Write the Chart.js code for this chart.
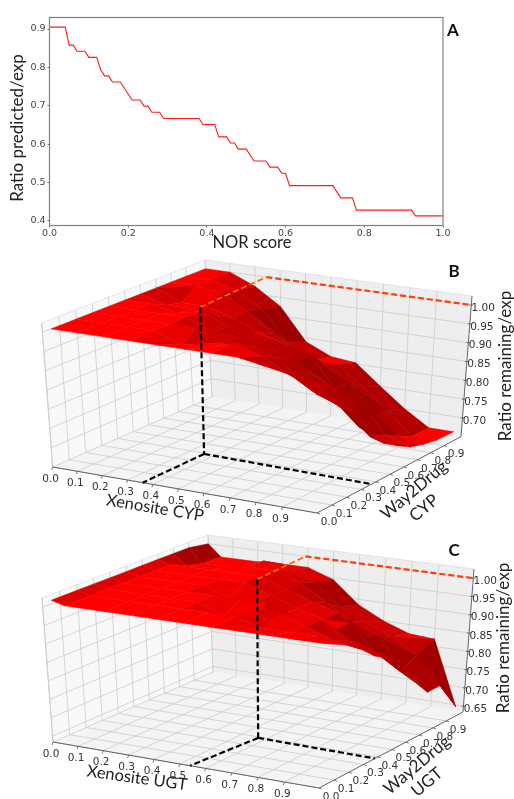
<!DOCTYPE html>
<html><head><meta charset="utf-8">
<style>html,body{margin:0;padding:0;background:#fff;width:514px;height:799px;overflow:hidden}canvas{position:absolute;left:0}</style>
<script src="https://cdn.jsdelivr.net/npm/chart.js@4"></script></head>
<body>
<canvas id="a" style="top:0" width="514" height="255"></canvas>
<canvas id="b" style="top:255px" width="514" height="270"></canvas>
<canvas id="c" style="top:525px" width="514" height="274"></canvas>
<script>
// Panel A
const norScore=[0,.04,.05,.06,.07,.09,.10,.12,.13,.14,.15,.16,.18,.21,.23,.24,.25,.26,.28,.29,.38,.39,.42,.43,.45,.46,.47,.48,.50,.52,.55,.56,.58,.59,.60,.61,.72,.74,.77,.78,.92,.93,1];
const ratioPredicted=[.905,.905,.858,.858,.842,.842,.826,.826,.794,.778,.778,.762,.762,.715,.715,.699,.699,.683,.683,.667,.667,.651,.651,.619,.619,.603,.603,.587,.587,.556,.556,.540,.540,.524,.524,.492,.492,.460,.460,.428,.428,.413,.413];
// Panels B, C: shared tick labels
const planeTicks=[0,.1,.2,.3,.4,.5,.6,.7,.8,.9];
const zTicksB=[.70,.75,.80,.85,.90,.95,1.00];
const zTicksC=[.65,.70,.75,.80,.85,.90,.95,1.00];
// Panel B surface
const bXGrid=[0,.1,.2,.3,.4,.5,.6,.7,.8,.9,1.0];
const bYGrid=[.05,.2,.3,.4,.5,.6,.7,.8,.9,1.03];
const bRatio=[
[1,1,1,1,1,1,1,1,.995,.97,.944],
[1,1,1,1,.975,.975,1,.975,.94,.90,.875],
[1,1,1,1,1,.97,.97,.95,.90,.90,.843],
[1,1,1,1,.97,.97,.93,.93,.88,.82,.762],
[1,1,.985,1,.97,.93,.93,.88,.82,.76,.727],
[1,.98,.98,.97,.93,.93,.88,.84,.78,.72,.702],
[1,.97,.97,.95,.92,.90,.88,.80,.78,.70,.68],
[1,1,.99,.95,.90,.86,.84,.80,.72,.68,.669],
[1,1,.98,.94,.86,.82,.82,.77,.72,.66,.662],
[1,1,.97,.925,.84,.81,.803,.75,.70,.66,.66]];
// Panel C surface
const cXGrid=[0,.05,.2,.3,.4,.5,.6,.7,.8,.9,1.0];
const cYGrid=[.05,.2,.3,.4,.5,.6,.7,.8,.9,1.03];
const cRatio=[
[1.01,1,1,1,1,1,1,1,1,1,1],
[1.01,1,1,1,1,1,1,.98,.98,.98,.967],
[1.01,1,1,1,1,.975,.975,1,.975,.95,.937],
[1.01,1,1,1,1,1,1,.975,.975,.93,.90],
[1.01,1,1,1,.975,.975,.95,.95,.93,.90,.874],
[1.01,1,1,1,1,.975,.95,.93,.93,.86,.817],
[1.01,1,1,1,1,.975,.95,.93,.875,.84,.773],
[1.01,.98,.985,1,1,.975,.93,.89,.86,.78,.727],
[1.01,.97,.97,1,.98,.96,.90,.87,.84,.80,.728],
[1.0,.967,.967,.97,.97,.945,.885,.85,.825,.82,.645]];
// Annotation lines: [x at floor, y at floor, z at top, x end on front axis, y end on side axis, x on back wall]
const markerB=[.36,.39,1.035,.36,.37,.245];
const markerC=[.57,.39,1.063,.54,.38,.39];

const camB={off:255,range:1.03,zMin:.65,zMax:1.024,
 floor:[[52.7,467],[317,513],[461,436.7],[212,397]],
 top:[[41.7,323],[325,366],[472,296],[205,260]]};
const camC={off:525,range:1.03,zMin:.634,zMax:1.025,
 floor:[[53,742],[319,788],[463,712],[213,672]],
 top:[[42,598],[324,639],[474,569],[208,535]]};

function homography(q){
 const [[x0,y0],[x1,y1],[x2,y2],[x3,y3]]=q;
 const dx1=x1-x2,dx2=x3-x2,sx=x0-x1+x2-x3,dy1=y1-y2,dy2=y3-y2,sy=y0-y1+y2-y3;
 const den=dx1*dy2-dx2*dy1,g=(sx*dy2-dx2*sy)/den,h=(dx1*sy-sx*dy1)/den;
 const a=x1-x0+g*x1,b=x3-x0+h*x3,d=y1-y0+g*y1,e=y3-y0+h*y3;
 return (u,v)=>{const w=g*u+h*v+1;return [(a*u+b*v+x0)/w,(d*u+e*v+y0)/w];};
}
function poly(pts,color){return {data:pts.map(p=>({x:p[0],y:p[1]})),showLine:true,fill:'shape',backgroundColor:color,borderColor:color,borderWidth:.5,pointRadius:0,clip:false};}
function line(pts,color,width,dash){return {data:pts.map(p=>({x:p[0],y:p[1]})),showLine:true,fill:false,borderColor:color,borderWidth:width,borderDash:dash||[],pointRadius:0,clip:false};}

function panel(id,cam,xGrid,yGrid,ratio,zTicks,marker,texts){
 const hf=homography(cam.floor),ht=homography(cam.top);
 const R=cam.range,zs=z=>(z-cam.zMin)/(cam.zMax-cam.zMin);
 const P=(x,y,z)=>{const u=x/R,v=y/R,w=zs(z),a=hf(u,v),b=ht(u,v);return [a[0]+(b[0]-a[0])*w,a[1]+(b[1]-a[1])*w];};
 const zLo=cam.zMin,zHi=cam.zMax,ds=[];
 // annotations on top
 const [mx,my,mz,ex,ey,wx]=marker;
 ds.push(line([P(mx,my,mz),P(mx,my,zLo)],'#000',2.2,[6,3]));
 ds.push(line([P(mx,my,zLo),P(ex,0,zLo)],'#000',2.2,[6,3]));
 ds.push(line([P(mx,my,zLo),P(R,ey,zLo)],'#000',2.2,[6,3]));
 ds.push(line([P(mx,my,mz),P(wx,R,1)],'#ff6a00',1.8,[6,3]));
 ds.push(line([P(wx,R,1),P(R,R,1)],'#ff3d0a',2.2,[6,3]));
 // surface, nearest first; light falls from the low-x side
 const faces=[];
 const face=(...c)=>{
  const q=c.map(a=>[a[0]/R,a[1]/R,zs(a[2])]);
  const A=q[0],B=q[1],C=q[c.length-2],D=q[c.length-1];
  const sub=(s,t)=>[s[0]-t[0],s[1]-t[1],s[2]-t[2]];
  const e=c.length===4?sub(C,A):sub(B,A),f=c.length===4?sub(D,B):sub(D,A);
  const n=[e[1]*f[2]-e[2]*f[1],e[2]*f[0]-e[0]*f[2],e[0]*f[1]-e[1]*f[0]];
  const len=Math.hypot(n[0],n[1],n[2])||1,sg=n[2]<0?-1:1;
  const dot=sg*(-.4*n[0]-.1*n[1]+.9*n[2])/len;
  const k=.62+.38*Math.min(1,Math.max(0,dot/.9));
  const col='rgb('+Math.round(255*k)+',0,0)';
  const sum=q.reduce((s,a)=>s+a[0]-a[1],0)/q.length;
  const pts=c.map(a=>P(...a));pts.push(pts[0]);
  faces.push({key:sum,ds:poly(pts,col)});
 };
 for(let j=0;j<yGrid.length-1;j++)for(let i=0;i<xGrid.length-1;i++){
  const p=(I,J)=>[xGrid[I],yGrid[J],ratio[J][I]];
  const a=p(i,j),b=p(i+1,j),c=p(i+1,j+1),d=p(i,j+1);
  if(Math.abs(a[2]+c[2]-b[2]-d[2])>.028){face(a,b,c);face(a,c,d);}
  else face(a,b,c,d);
 }
 faces.sort((a,b)=>b.key-a.key).forEach(t=>ds.push(t.ds));
 // axis edges
 ds.push(line([P(0,0,zLo),P(R,0,zLo)],'#555',.9));
 ds.push(line([P(R,0,zLo),P(R,R,zLo)],'#555',.9));
 ds.push(line([P(R,R,zLo),P(R,R,zHi)],'#555',.9));
 planeTicks.forEach(t=>{
  const a=P(t,0,zLo);ds.push(line([a,[a[0]-1,a[1]+3]],'#555',.8));
  const b=P(R,t,zLo);ds.push(line([b,[b[0]+3,b[1]+1]],'#555',.8));
 });
 zTicks.forEach(t=>{const a=P(R,R,t);ds.push(line([[a[0]-2,a[1]],[a[0]+2,a[1]]],'#555',.8));});
 // grid
 const gc='#cccccc';
 planeTicks.forEach(t=>{
  ds.push(line([P(t,0,zLo),P(t,R,zLo)],gc,.8));
  ds.push(line([P(0,t,zLo),P(R,t,zLo)],gc,.8));
  ds.push(line([P(t,R,zLo),P(t,R,zHi)],gc,.8));
  ds.push(line([P(0,t,zLo),P(0,t,zHi)],gc,.8));
 });
 zTicks.forEach(t=>{
  ds.push(line([P(0,0,t),P(0,R,t)],gc,.8));
  ds.push(line([P(0,R,t),P(R,R,t)],gc,.8));
 });
 ds.push(line([P(0,0,zLo),P(0,0,zHi)],gc,.9));
 ds.push(line([P(0,0,zHi),P(0,R,zHi)],'#e0e0e0',.8));
 ds.push(line([P(0,R,zHi),P(R,R,zHi)],'#e0e0e0',.8));
 ds.push(line([P(0,R,zLo),P(0,R,zHi)],'#dcdcdc',.8));
 // panes
 ds.push(poly([P(0,0,zLo),P(R,0,zLo),P(R,R,zLo),P(0,R,zLo),P(0,0,zLo)],'#f4f4f4'));
 ds.push(poly([P(0,R,zLo),P(R,R,zLo),P(R,R,zHi),P(0,R,zHi),P(0,R,zLo)],'#eeeeee'));
 ds.push(poly([P(0,0,zLo),P(0,R,zLo),P(0,R,zHi),P(0,0,zHi),P(0,0,zLo)],'#f8f8f8'));
 // text
 const labels=[];
 const tf='10.5px "DejaVu Sans"',tc='#333';
 planeTicks.forEach(t=>{
  const a=P(t,0,zLo);labels.push({t:t.toFixed(1),x:a[0]-2,y:a[1]+12,f:tf,c:tc});
  const b=P(R,t,zLo);labels.push({t:t.toFixed(1),x:b[0]+12,y:b[1]+9,f:tf,c:tc});
 });
 zTicks.forEach(t=>{const a=P(R,R,t);labels.push({t:t.toFixed(2),x:a[0]+12,y:a[1]+3,f:tf,c:tc});});
 texts.forEach(t=>labels.push(t));
 return new Chart(document.getElementById(id),{type:'scatter',data:{datasets:ds},
  options:{responsive:false,animation:false,events:[],layout:{padding:0},
   plugins:{legend:{display:false},tooltip:{enabled:false}},
   scales:{x:{type:'linear',display:false,min:0,max:514},y:{type:'linear',display:false,reverse:true,min:cam.off,max:cam.off+document.getElementById(id).height}}},
  plugins:[{id:'txt',afterDraw(ch){const c=ch.ctx;labels.forEach(l=>{c.save();c.translate(l.x,l.y-cam.off);c.rotate((l.r||0)*Math.PI/180);c.font=l.f;c.fillStyle=l.c;c.textAlign='center';c.textBaseline='middle';c.fillText(l.t,0,0);c.restore();});}}]});
}

const titleFont='17px Lato',xFont='16.5px Lato',letterFont='bold 17px Lato';
new Chart(document.getElementById('a'),{type:'scatter',
 data:{datasets:[{data:norScore.map((x,i)=>({x,y:ratioPredicted[i]})),showLine:true,borderColor:'#ff1a1a',borderWidth:1.1,pointRadius:0,fill:false}]},
 options:{responsive:false,animation:false,events:[],layout:{padding:{top:17.5,right:71,bottom:0,left:0}},
  plugins:{legend:{display:false},tooltip:{enabled:false}},
  scales:{
   x:{type:'linear',min:0,max:1,afterFit(s){s.height=29.5;},
    grid:{display:true,drawOnChartArea:false,drawTicks:true,tickLength:2,color:'#666'},border:{display:false},
    ticks:{stepSize:.2,padding:0,maxRotation:0,color:'#444',font:{family:'DejaVu Sans',size:9.5},callback:v=>v.toFixed(1)}},
   y:{type:'linear',min:.388,max:.93,afterFit(s){s.width=49.5;},
    grid:{display:true,drawOnChartArea:false,drawTicks:true,tickLength:2,color:'#666'},border:{display:false},
    ticks:{stepSize:.1,includeBounds:false,padding:2,color:'#444',font:{family:'DejaVu Sans',size:9.5},callback:v=>v.toFixed(1)}}}},
 plugins:[{id:'frame',afterDraw(ch){const c=ch.ctx,a=ch.chartArea;c.save();c.strokeStyle='#808080';c.lineWidth=1.2;c.strokeRect(a.left,a.top,a.width,a.height);c.textAlign='center';c.textBaseline='middle';c.font=letterFont;c.fillStyle='#111';c.fillText('A',453,31);
  c.font=xFont;c.fillStyle='#222';c.fillText('NOR score',252,243);c.font=titleFont;c.translate(18,128);c.rotate(-Math.PI/2);c.fillText('Ratio predicted/exp',0,0);c.restore();}}]});

panel('b',camB,bXGrid,bYGrid,bRatio,zTicksB,markerB,[
 {t:'B',x:454,y:272,f:letterFont,c:'#111'},
 {t:'Ratio remaining/exp',x:506,y:366,r:-90,f:titleFont,c:'#222'},
 {t:'Xenosite CYP',x:155,y:508,r:9.5,f:xFont,c:'#222'},
 {t:'Way2Drug',x:414,y:490,r:-40,f:titleFont,c:'#222'},
 {t:'CYP',x:424,y:508,r:-40,f:titleFont,c:'#222'}]);
panel('c',camC,cXGrid,cYGrid,cRatio,zTicksC,markerC,[
 {t:'C',x:454,y:551,f:letterFont,c:'#111'},
 {t:'Ratio remaining/exp',x:504,y:638,r:-90,f:titleFont,c:'#222'},
 {t:'Xenosite UGT',x:137,y:778,r:8,f:xFont,c:'#222'},
 {t:'Way2Drug',x:417,y:765,r:-40,f:titleFont,c:'#222'},
 {t:'UGT',x:427,y:782,r:-40,f:titleFont,c:'#222'}]);
</script></body></html>
